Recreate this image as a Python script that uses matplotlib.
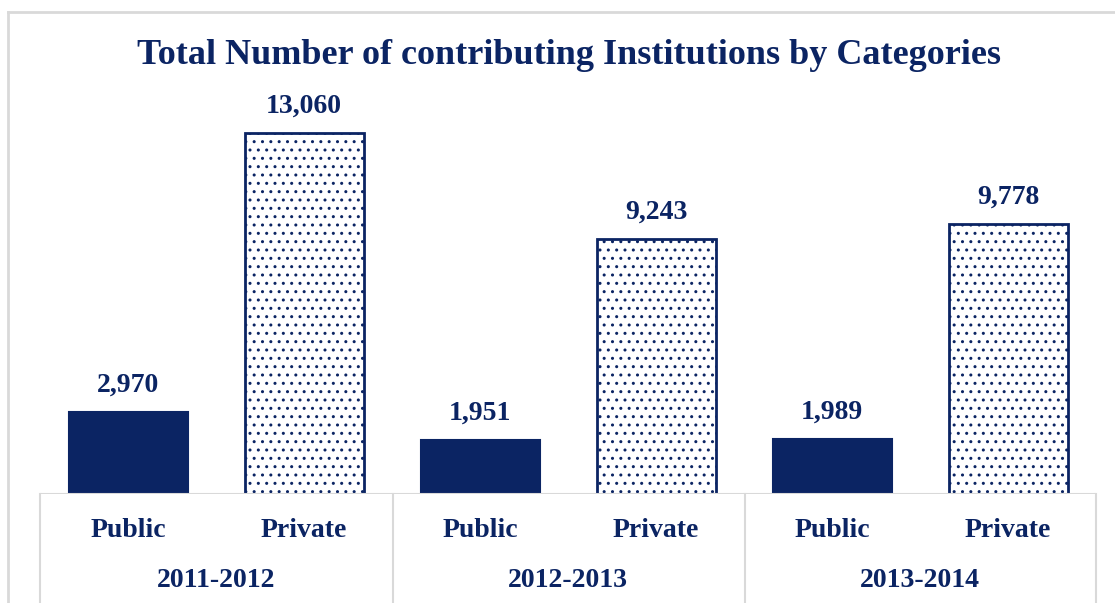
import matplotlib.pyplot as plt
from matplotlib.lines import Line2D

years = ["2011-2012", "2012-2013", "2013-2014"]
sectors = ["Public", "Private"]
public_counts = [2970, 1951, 1989]
private_counts = [13060, 9243, 9778]

navy = "#0b2463"
grey = "#d9d9d9"
plt.rcParams['font.family'] = ['Liberation Serif', 'DejaVu Serif']
plt.rcParams['hatch.color'] = navy
plt.rcParams['hatch.linewidth'] = 1.0

W, H = 1115, 603
fig = plt.figure(figsize=(W / 100, H / 100), dpi=100)

# axes in pixel coordinates: baseline at y=494, x from 40 to 1096
base_y, top_y = 494, 60
ax = fig.add_axes([40 / W, (H - base_y) / H, (1096 - 40) / W, (base_y - top_y) / H])
ymax = max(private_counts) * (base_y - top_y) / (base_y - 133)
ax.set_ylim(0, ymax)
ax.set_xlim(-0.5, 5.5)
px = ymax / (base_y - top_y)  # data units per pixel

xs, vals = [], []
for i in range(len(years)):
    xs += [2 * i, 2 * i + 1]
    vals += [public_counts[i], private_counts[i]]

bw = 119 / 176
for k, (x, v) in enumerate(zip(xs, vals)):
    if k % 2 == 0:
        ax.bar(x, v, width=bw, color=navy, edgecolor=navy, linewidth=1.5)
    else:
        ax.bar(x, v, width=bw, facecolor="white", edgecolor=navy,
               linewidth=2, hatch="..")
    ax.text(x, v + 20 * px, f"{v:,}", ha="center", va="baseline",
            fontsize=20, fontweight="bold", color=navy)

for s in ax.spines.values():
    s.set_visible(False)
ax.set_xticks([])
ax.set_yticks([])
ax.axhline(0, color=grey, lw=1.5)

def fx(p):
    return p / W

def fy(p):
    return 1 - p / H

for sx in [40, 393, 745, 1096]:
    fig.add_artist(Line2D([fx(sx), fx(sx)], [fy(494), fy(603)], color=grey, lw=1.5))

for k, x in enumerate(xs):
    ax.text(x, -(537 - base_y) * px, sectors[k % 2],
            ha="center", va="baseline", fontsize=20, fontweight="bold", color=navy)
for i, yr in enumerate(years):
    ax.text(2 * i + 0.5, -(587 - base_y) * px, yr,
            ha="center", va="baseline", fontsize=20, fontweight="bold", color=navy)

# outer chart frame
fig.add_artist(Line2D([fx(8), fx(8)], [fy(12), fy(603)], color=grey, lw=2))
fig.add_artist(Line2D([fx(8), 1], [fy(12), fy(12)], color=grey, lw=2))

fig.text(fx(569), fy(64), "Total Number of contributing Institutions by Categories",
         ha="center", va="baseline", fontsize=26, fontweight="bold", color=navy)

fig.savefig("out.png", dpi=100)
